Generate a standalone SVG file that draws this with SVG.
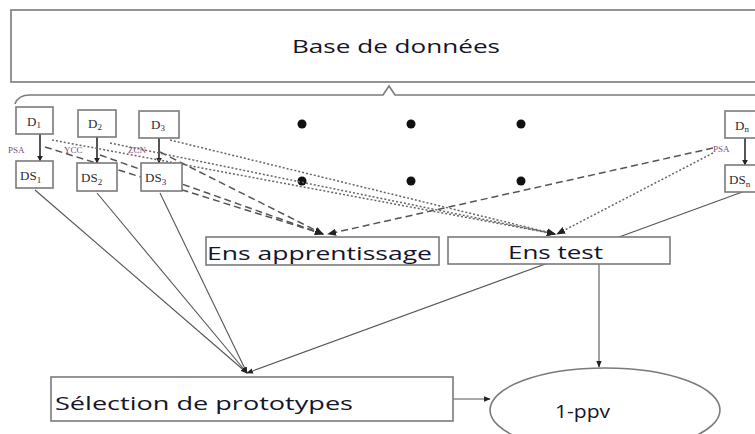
<svg xmlns="http://www.w3.org/2000/svg" width="755" height="434" viewBox="0 0 755 434">
  <style>
    .box { fill: #fff; stroke: #7a7a7a; stroke-width: 1.6; }
    .big { font-family: "Open Sans", "Liberation Sans", sans-serif; font-size: 19px; fill: #14142b; }
    .ser { font-family: "Liberation Serif", serif; font-size: 13px; fill: #2a2a3a; }
    .lab { font-family: "Liberation Serif", serif; font-size: 9px; fill: #7a4a7a; }
    .solid { fill: none; stroke: #555; stroke-width: 1.1; }
    .dash { fill: none; stroke: #555; stroke-width: 1.5; stroke-dasharray: 7 4; }
    .dot { fill: none; stroke: #666; stroke-width: 1.5; stroke-dasharray: 2 2; }
    .lnk { stroke: #555; stroke-width: 2; }
  </style>
  <defs>
    <marker id="ah" viewBox="0 0 10 10" refX="9" refY="5" markerWidth="6" markerHeight="6" orient="auto-start-reverse">
      <path d="M0,1 L10,5 L0,9 z" fill="#222"/>
    </marker>
    <marker id="sm" viewBox="0 0 10 10" refX="9" refY="5" markerWidth="3" markerHeight="3" orient="auto">
      <path d="M0,0 L10,5 L0,10 z" fill="#222"/>
    </marker>
  </defs>
  <rect width="755" height="434" fill="#fff"/>

  <g id="base">
    <rect class="box" x="11" y="10" width="760" height="72"/>
    <text class="big" x="292" y="53" textLength="208" lengthAdjust="spacingAndGlyphs">Base de données</text>
    <path d="M15,104 Q18,95 30,95 L383,95 L389,86 L395,95 L760,95" fill="none" stroke="#7a7a7a" stroke-width="1.6"/>
  </g>

  <g id="dots" fill="#111">
    <circle cx="302" cy="124" r="4.5"/>
    <circle cx="411" cy="124" r="4.5"/>
    <circle cx="521" cy="124" r="4.5"/>
    <circle cx="302" cy="181" r="4.5"/>
    <circle cx="411" cy="181" r="4.5"/>
    <circle cx="521" cy="181" r="4.5"/>
  </g>

  <g id="connectors">
    <!-- D to DS links -->
    <line class="lnk" x1="40" y1="133" x2="40" y2="161" marker-end="url(#sm)"/>
    <line class="lnk" x1="97" y1="137" x2="97" y2="163" marker-end="url(#sm)"/>
    <line class="lnk" x1="159" y1="138" x2="159" y2="163" marker-end="url(#sm)"/>
    <line class="lnk" x1="745" y1="138" x2="745" y2="165" marker-end="url(#sm)"/>
    <!-- to training set -->
    <path class="dash" d="M45,147 L323,234" marker-end="url(#ah)"/>
    <path class="dash" d="M100,155 L323,234" marker-end="url(#ah)"/>
    <path class="dash" d="M160,152 L323,234" marker-end="url(#ah)"/>
    <path class="dash" d="M713,148 L328,234" marker-end="url(#ah)"/>
    <!-- to test set -->
    <path class="dot" d="M52,140 L555,234" marker-end="url(#ah)"/>
    <path class="dot" d="M110,143 L555,234" marker-end="url(#ah)"/>
    <path class="dot" d="M170,140 L555,234" marker-end="url(#ah)"/>
    <path class="dot" d="M713,153 L557,234" marker-end="url(#ah)"/>
    <!-- to prototype selection -->
    <path class="solid" d="M35,190 L247,373" marker-end="url(#ah)"/>
    <path class="solid" d="M97,193 L247,373" marker-end="url(#ah)"/>
    <path class="solid" d="M160,193 L247,373" marker-end="url(#ah)"/>
    <path class="solid" d="M745,191 L247,373" marker-end="url(#ah)"/>
    <path class="solid" d="M599,264 L599,367" marker-end="url(#ah)"/>
    <path class="solid" d="M453,399 L490,399" marker-end="url(#ah)"/>
  </g>

  <g id="labels">
    <text class="lab" x="8" y="153">PSA</text>
    <text class="lab" x="64" y="153">YCC</text>
    <text class="lab" x="128" y="153">ZCN</text>
    <text class="lab" x="713" y="152">PSA</text>
  </g>

  <g id="d1"><rect class="box" x="16" y="107" width="37" height="27"/><text class="ser" x="27" y="126">D<tspan font-size="9" dy="2">1</tspan></text></g>
  <g id="d2"><rect class="box" x="78" y="110" width="38" height="27"/><text class="ser" x="88" y="128">D<tspan font-size="9" dy="2">2</tspan></text></g>
  <g id="d3"><rect class="box" x="139" y="111" width="40" height="27"/><text class="ser" x="151" y="129">D<tspan font-size="9" dy="2">3</tspan></text></g>
  <g id="dn"><rect class="box" x="725" y="111" width="40" height="27"/><text class="ser" x="735" y="130">D<tspan font-size="9" dy="2">n</tspan></text></g>
  <g id="ds1"><rect class="box" x="16" y="161" width="37" height="27"/><text class="ser" x="20" y="180">DS<tspan font-size="9" dy="3">1</tspan></text></g>
  <g id="ds2"><rect class="box" x="77" y="163" width="40" height="28"/><text class="ser" x="81" y="182">DS<tspan font-size="9" dy="3">2</tspan></text></g>
  <g id="ds3"><rect class="box" x="141" y="163" width="41" height="28"/><text class="ser" x="145" y="182">DS<tspan font-size="9" dy="3">3</tspan></text></g>
  <g id="dsn"><rect class="box" x="725" y="165" width="40" height="27"/><text class="ser" x="729" y="184">DS<tspan font-size="9" dy="3">n</tspan></text></g>

  <g id="ens-apprentissage">
    <rect class="box" x="206" y="237" width="233" height="28"/>
    <text class="big" x="207" y="260" textLength="225" lengthAdjust="spacingAndGlyphs">Ens apprentissage</text>
  </g>
  <g id="ens-test">
    <rect class="box" x="448" y="237" width="222" height="27"/>
    <text class="big" x="508" y="259" textLength="95" lengthAdjust="spacingAndGlyphs">Ens test</text>
  </g>
  <g id="selection">
    <rect class="box" x="51" y="377" width="402" height="44"/>
    <text class="big" x="55" y="410" textLength="298" lengthAdjust="spacingAndGlyphs">Sélection de prototypes</text>
  </g>
  <g id="ppv">
    <ellipse class="box" cx="605" cy="410" rx="115" ry="42"/>
    <text class="big" x="555" y="418" font-size="18" textLength="55" lengthAdjust="spacingAndGlyphs">1-ppv</text>
  </g>
</svg>
